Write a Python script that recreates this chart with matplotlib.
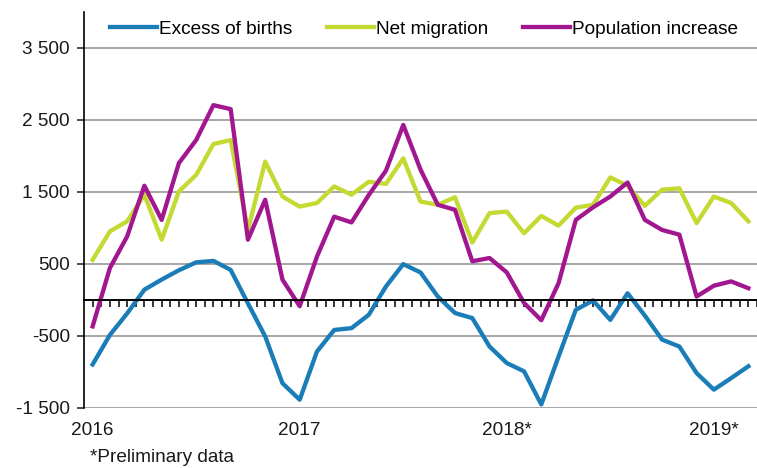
import matplotlib
matplotlib.use("Agg")
import matplotlib.pyplot as plt
import numpy as np

plt.rcParams['font.family'] = ['Liberation Sans', 'DejaVu Sans']

# monthly values, Jan 2016 - Mar 2019
excess_of_births = [-900, -490, -190, 140, 280, 410, 520, 540, 415, -50,
                    -510, -1160, -1390, -720, -420, -395, -210, 185, 495, 380,
                    45, -185, -255, -650, -880, -995, -1455, -790, -140, -10,
                    -280, 90, -220, -555, -650, -1020, -1250, -1090, -925]
net_migration = [555, 950, 1090, 1460, 835, 1505, 1735, 2165, 2220, 970,
                 1920, 1435, 1295, 1345, 1575, 1460, 1640, 1610, 1965, 1365,
                 1320, 1425, 795, 1205, 1225, 925, 1165, 1030, 1280, 1320,
                 1700, 1585, 1305, 1530, 1550, 1065, 1435, 1345, 1090]
population_increase = [-370, 440, 880, 1585, 1110, 1900, 2220, 2705, 2650, 835,
                       1390, 280, -90, 600, 1155, 1075, 1455, 1795, 2430, 1810,
                       1320, 1250, 535, 580, 380, -45, -285, 230, 1110, 1285,
                       1435, 1630, 1110, 970, 905, 45, 195, 255, 160]
year_labels = ['2016', '2017', '2018*', '2019*']
year_pos = [0, 12, 24, 36]
yticks = [-1500, -500, 500, 1500, 2500, 3500]

months = np.arange(len(excess_of_births))
fs = 13.7

fig = plt.figure(figsize=(7.57, 4.68), dpi=100)
ax = fig.add_axes([84 / 757, 60 / 468, 673 / 757, 396 / 468])

ax.plot(months, excess_of_births, color='#1b7db8', lw=3.1, label='Excess of births', solid_joinstyle='round')
ax.plot(months, net_migration, color='#c4d932', lw=3.1, label='Net migration', solid_joinstyle='round')
ax.plot(months, population_increase, color='#a2178f', lw=3.1, label='Population increase', solid_joinstyle='round')

ax.set_xlim(-0.5, 38.1)
ax.set_ylim(-1505, 4000)

ax.set_yticks(yticks)
ax.set_yticklabels([f'{v:,}'.replace(',', ' ') for v in yticks])
ax.grid(axis='y', color='#a6a6a6', lw=1.4)
ax.set_axisbelow(True)

for s in ['top', 'right']:
    ax.spines[s].set_visible(False)
ax.spines['bottom'].set_position(('data', 0))
ax.spines['bottom'].set_linewidth(1.4)
ax.spines['left'].set_linewidth(1.2)

ax.set_xticks(np.arange(0, 38.6, 0.5))
ax.tick_params(axis='x', direction='out', length=5, width=1.1, labelbottom=False)
ax.tick_params(axis='y', direction='out', length=5, width=1.1, labelsize=fs, pad=5, colors='#1a1a1a')

for p, lab in zip(year_pos, year_labels):
    ax.text(p, -0.058, lab, transform=ax.get_xaxis_transform(), ha='center', va='center',
            fontsize=fs, color='#1a1a1a')

fig.text(90 / 757, 1 - 458 / 468, '*Preliminary data', fontsize=fs, va='center', color='#1a1a1a')

ax.legend(loc='center left', bbox_to_anchor=(110 / 757, 1 - 29 / 468), bbox_transform=fig.transFigure,
          ncol=3, frameon=False, fontsize=fs, handlelength=2.47, handletextpad=0.1,
          columnspacing=1.84, borderpad=0, borderaxespad=0)

fig.savefig('out.png', dpi=100)
